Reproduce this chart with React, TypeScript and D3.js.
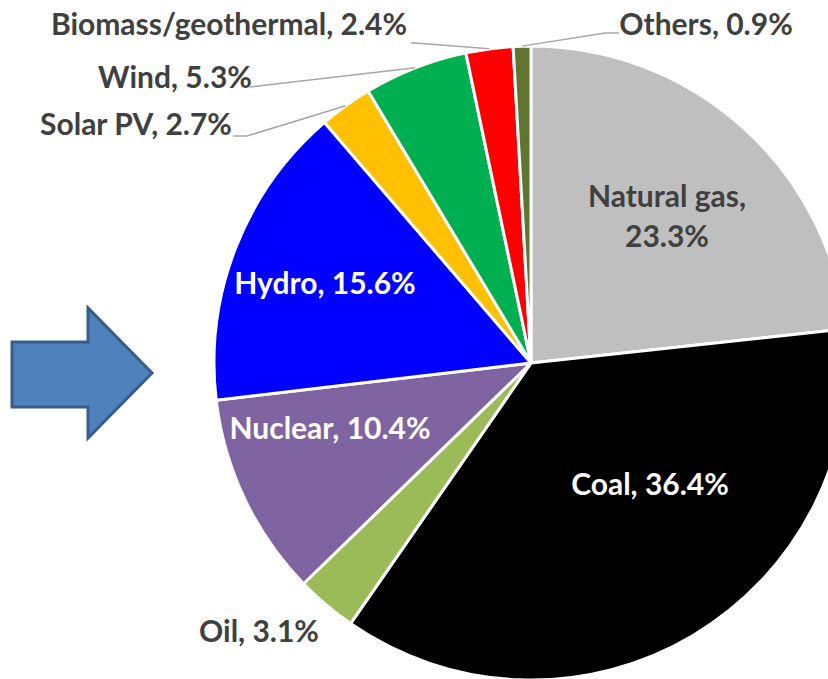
import React from "react";
import * as d3 from "d3";

const categories = ["Natural gas", "Coal", "Oil", "Nuclear", "Hydro", "Solar PV", "Wind", "Biomass/geothermal", "Others"];
const shares = [23.3, 36.4, 3.1, 10.4, 15.6, 2.7, 5.3, 2.4, 0.9];
const colors = ["#BFBFBF", "#000000", "#9BBB59", "#8064A2", "#0000FF", "#FFC000", "#00B050", "#FF0000", "#5F7530"];

const labelLayout: Record<string, { x: number; y: number; fill: string; lines?: boolean; leader?: [number, number][] }> = {
  "Natural gas": { x: 667, y: 207, fill: "#404040", lines: true },
  Coal: { x: 650, y: 495, fill: "#FFFFFF" },
  Oil: { x: 259, y: 642, fill: "#404040" },
  Nuclear: { x: 330, y: 439, fill: "#FFFFFF" },
  Hydro: { x: 325, y: 294, fill: "#FFFFFF" },
  "Solar PV": { x: 136, y: 135, fill: "#404040", leader: [[233, 136], [247, 136]] },
  Wind: { x: 175, y: 88, fill: "#404040", leader: [[250, 87]] },
  "Biomass/geothermal": { x: 229, y: 35, fill: "#404040", leader: [[411, 43], [415, 43]] },
  Others: { x: 706, y: 35, fill: "#404040", leader: [[619, 33], [605, 33]] },
};

const W = 828, H = 679;
const cx = 531, cy = 363, R = 317;
const FONT = "Lato, 'Open Sans', sans-serif";
const FS = 30;

export default function App() {
  const data = categories.map((c, i) => ({ name: c, value: shares[i], color: colors[i] }));
  const pie = d3.pie<any>().sort(null).value((d: any) => d.value).startAngle(0).endAngle(2 * Math.PI);
  const arcs = pie(data);
  const arc = d3.arc<any>().innerRadius(0).outerRadius(R);

  const arrowPts: [number, number][] = [
    [12, 342], [88, 342], [88, 308], [152, 373], [88, 438], [88, 407], [12, 407],
  ];

  return (
    <svg width={W} height={H} style={{ position: "absolute", left: 0, top: 0, background: "#fff" }}>
      <rect width={W} height={H} fill="#fff" />
      <polygon points={arrowPts.map((p) => p.join(",")).join(" ")} fill="#4F81BD" stroke="#385D8A" strokeWidth={3} strokeLinejoin="miter" />
      <g transform={`translate(${cx},${cy})`}>
        {arcs.map((a, i) => (
          <path key={i} d={arc(a) as string} fill={a.data.color} stroke="#fff" strokeWidth={3} strokeLinejoin="round" />
        ))}
      </g>
      {arcs.map((a, i) => {
        const L = labelLayout[a.data.name];
        if (!L.leader) return null;
        const mid = (a.startAngle + a.endAngle) / 2;
        const px = cx + R * Math.sin(mid);
        const py = cy - R * Math.cos(mid);
        const pts = [...L.leader, [px, py]];
        return (
          <polyline key={"l" + i} points={pts.map((p) => p.join(",")).join(" ")} fill="none" stroke="#A6A6A6" strokeWidth={1.5} />
        );
      })}
      {arcs.map((a, i) => {
        const L = labelLayout[a.data.name];
        const txt = `${a.data.name}, ${a.data.value.toFixed(1)}%`;
        if (L.lines) {
          return (
            <text key={"t" + i} textAnchor="middle" fontFamily={FONT} fontWeight="bold" fontSize={FS} fill={L.fill}>
              <tspan x={L.x} y={L.y}>{a.data.name + ","}</tspan>
              <tspan x={L.x} y={L.y + 40}>{a.data.value.toFixed(1) + "%"}</tspan>
            </text>
          );
        }
        return (
          <text key={"t" + i} x={L.x} y={L.y} textAnchor="middle" fontFamily={FONT} fontWeight="bold" fontSize={FS} fill={L.fill}>
            {txt}
          </text>
        );
      })}
    </svg>
  );
}
